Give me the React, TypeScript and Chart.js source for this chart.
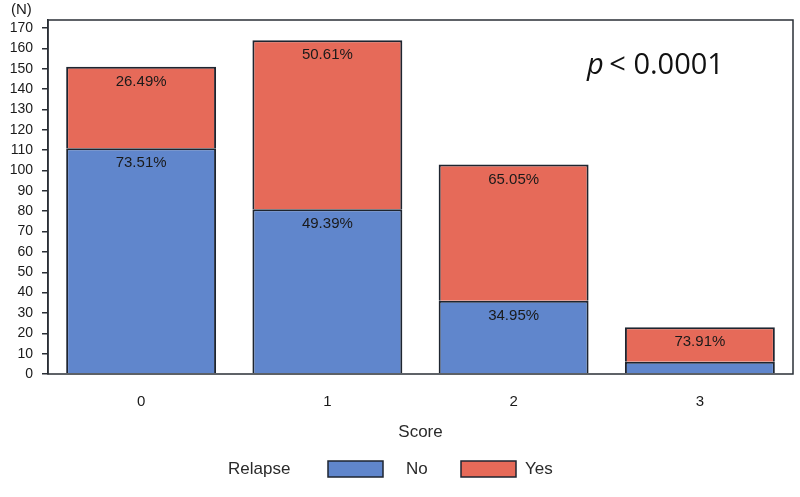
import React, { useEffect, useRef } from "react";
import { Chart, registerables } from "chart.js";

Chart.register(...registerables);

const categories = ["0", "1", "2", "3"];
const noValues = [111, 81, 36, 6];
const yesValues = [40, 83, 67, 17];
const seriesLabels = ["No", "Yes"];
const yTicks = [0, 10, 20, 30, 40, 50, 60, 70, 80, 90, 100, 110, 120, 130, 140, 150, 160, 170];
const legendTitle = "Relapse";
const xTitle = "Score";
const yUnit = "(N)";
const pText = "< 0.0001";

const BLUE = "#6086CC";
const RED = "#E66A59";
const EDGE = "#1E2530";
const FONT = "'Liberation Sans', Arial, sans-serif";

const overlayPlugin = {
  id: "overlay",
  afterDatasetsDraw(chart: any) {
    const { ctx, chartArea } = chart;
    ctx.save();
    // frame
    ctx.strokeStyle = "#2a2f36";
    ctx.lineWidth = 1.5;
    ctx.strokeRect(chartArea.left, chartArea.top, chartArea.right - chartArea.left, chartArea.bottom - chartArea.top);

    // percentage labels
    ctx.fillStyle = "#1a1a1a";
    ctx.font = `15px ${FONT}`;
    ctx.textAlign = "center";
    ctx.textBaseline = "middle";
    const totals = noValues.map((v, i) => v + yesValues[i]);
    chart.data.datasets.forEach((ds: any, di: number) => {
      const meta = chart.getDatasetMeta(di);
      meta.data.forEach((bar: any, i: number) => {
        const v = ds.data[i];
        const h = Math.abs(bar.base - bar.y);
        if (h < 25) return;
        const pct = ((v / totals[i]) * 100).toFixed(2) + "%";
        ctx.fillText(pct, bar.x, bar.y + 15);
      });
    });

    // p-value annotation
    ctx.textAlign = "left";
    ctx.textBaseline = "alphabetic";
    ctx.fillStyle = "#111";
    ctx.font = `italic 29px 'Open Sans', sans-serif`;
    const px = 587;
    const py = 74;
    ctx.fillText("p", px, py);
    const pw = ctx.measureText("p ").width;
    ctx.font = `29px 'Open Sans', sans-serif`;
    ctx.fillText(pText, px + pw - 2, py);

    // (N) label
    ctx.font = `15px ${FONT}`;
    ctx.fillStyle = "#1a1a1a";
    ctx.textAlign = "left";
    ctx.textBaseline = "middle";
    ctx.fillText(yUnit, 11, 10);

    // legend
    const ly = 469;
    ctx.font = `17px ${FONT}`;
    ctx.textAlign = "left";
    ctx.fillStyle = "#2a2a2a";
    ctx.fillText(legendTitle, 228, ly);
    const boxes = [
      { x: 328, tx: 406, color: BLUE, label: seriesLabels[0] },
      { x: 461, tx: 525, color: RED, label: seriesLabels[1] },
    ];
    boxes.forEach((b) => {
      ctx.fillStyle = b.color;
      ctx.fillRect(b.x, ly - 8, 55, 16);
      ctx.strokeStyle = EDGE;
      ctx.lineWidth = 1.5;
      ctx.strokeRect(b.x, ly - 8, 55, 16);
      ctx.fillStyle = "#2a2a2a";
      ctx.fillText(b.label, b.tx, ly);
    });
    ctx.restore();
  },
};

export default function App() {
  const ref = useRef<HTMLCanvasElement>(null);
  useEffect(() => {
    document.body.style.margin = "0";
    const chart = new Chart(ref.current!, {
      type: "bar",
      data: {
        labels: categories,
        datasets: [
          {
            label: seriesLabels[0],
            data: noValues,
            backgroundColor: BLUE,
            borderColor: EDGE,
            borderWidth: 2,
            categoryPercentage: 1,
            barPercentage: 0.805,
          },
          {
            label: seriesLabels[1],
            data: yesValues,
            backgroundColor: RED,
            borderColor: EDGE,
            borderWidth: 2,
            categoryPercentage: 1,
            barPercentage: 0.805,
          },
        ],
      },
      options: {
        animation: false,
        responsive: false,
        maintainAspectRatio: false,
        layout: { padding: { top: 20, right: 7, left: 0, bottom: 0 } },
        plugins: { legend: { display: false }, tooltip: { enabled: false } },
        scales: {
          x: {
            stacked: true,
            grid: { display: false, drawTicks: false },
            border: { display: false },
            ticks: { padding: 19, color: "#1a1a1a", font: { family: FONT, size: 15 } },
            title: {
              display: true,
              text: xTitle,
              color: "#2a2a2a",
              font: { family: FONT, size: 17 },
              padding: { top: 0, bottom: 54 },
            },
            afterFit: (s: any) => {
              s.height = 123;
            },
          },
          y: {
            stacked: true,
            min: 0,
            max: 174,
            grid: {
              display: true,
              drawOnChartArea: false,
              drawTicks: true,
              tickLength: 6,
              color: "#2a2f36",
              lineWidth: 1.5,
            },
            border: { display: true, color: "#2a2f36", width: 1.5 },
            ticks: {
              autoSkip: false,
              padding: 9,
              color: "#1a1a1a",
              font: { family: FONT, size: 14 },
            },
            afterBuildTicks: (s: any) => {
              s.ticks = yTicks.map((v) => ({ value: v }));
            },
            afterFit: (s: any) => {
              s.width = 48;
            },
          },
        },
      },
      plugins: [overlayPlugin],
    });
    return () => chart.destroy();
  }, []);
  return (
    <div style={{ width: 800, height: 497, background: "#fff" }}>
      <canvas ref={ref} width={800} height={497} style={{ display: "block" }} />
    </div>
  );
}
